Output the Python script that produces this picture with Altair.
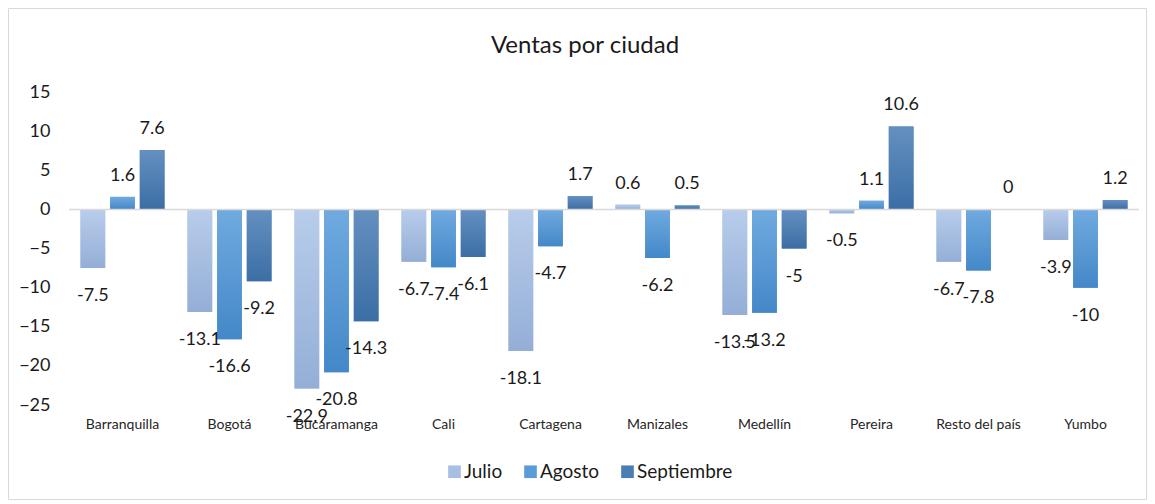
import altair as alt
import pandas as pd

titulo = "Ventas por ciudad"
ciudades = ["Barranquilla", "Bogotá", "Bucaramanga", "Cali", "Cartagena",
            "Manizales", "Medellín", "Pereira", "Resto del país", "Yumbo"]
meses = ["Julio", "Agosto", "Septiembre"]
julio = [-7.5, -13.1, -22.9, -6.7, -18.1, 0.6, -13.5, -0.5, -6.7, -3.9]
agosto = [1.6, -16.6, -20.8, -7.4, -4.7, -6.2, -13.2, 1.1, -7.8, -10]
septiembre = [7.6, -9.2, -14.3, -6.1, 1.7, 0.5, -5, 10.6, 0, 1.2]
y_ticks = [-25, -20, -15, -10, -5, 0, 5, 10, 15]

rows = []
for mes, serie in zip(meses, [julio, agosto, septiembre]):
    for c, v in zip(ciudades, serie):
        rows.append({"ciudad": c, "mes": mes, "valor": v, "etiqueta": f"{v:g}"})
df = pd.DataFrame(rows)

solid = ["#A7BFE3", "#5A9BD8", "#4A7DB3"]


def grad(top, bottom):
    return {"gradient": "linear", "x1": 0, "y1": 0, "x2": 0, "y2": 1,
            "stops": [{"offset": 0, "color": top}, {"offset": 1, "color": bottom}]}


g_jul = grad("#B8CDEB", "#94AED6")
g_ago = grad("#70AAE0", "#4488C8")
g_sep = grad("#6490C0", "#3B6EA5")

FONT = "Lato"
TXT = "#1a1a1a"

y_axis = alt.Axis(title=None, values=y_ticks, grid=False, ticks=False,
                  domain=False, labelFontSize=18, labelColor=TXT,
                  labelPadding=19, labelFont=FONT, labelOverlap=False)
y_scale = alt.Scale(domain=[-25, 15], nice=False, zero=False)

x_enc = alt.X("ciudad:N", sort=ciudades,
              scale=alt.Scale(paddingInner=0.215, paddingOuter=0.1075),
              axis=alt.Axis(title=None, labelAngle=0, ticks=False, domain=False,
                            labelFontSize=14, labelColor="#262626", labelPadding=12,
                            labelFont=FONT, labelOverlap=False))
xoff_enc = alt.XOffset("mes:N", sort=meses,
                       scale=alt.Scale(domain=meses, paddingInner=0.167))
y_enc = alt.Y("valor:Q", scale=y_scale, axis=y_axis)

base = alt.Chart(df)
one = pd.DataFrame({"t": [titulo]})

frame = alt.Chart(one).mark_rect(
    fill="white", fillOpacity=0, stroke="#D9D9D9", strokeWidth=1
).encode(x=alt.value(-60.5), x2=alt.value(1077.5), y=alt.value(-83.5), y2=alt.value(407.5))

title_txt = alt.Chart(one).mark_text(
    fontSize=24, font=FONT, color=TXT, baseline="alphabetic", align="center"
).encode(x=alt.value(516), y=alt.value(-39), text="t:N")

bars_solid = base.mark_bar().encode(
    x=x_enc, xOffset=xoff_enc, y=y_enc, y2=alt.datum(0),
    color=alt.Color("mes:N", sort=meses,
                    scale=alt.Scale(domain=meses, range=solid),
                    legend=alt.Legend(title=None, orient="none", direction="horizontal",
                                      legendX=376, legendY=370, padding=0,
                                      labelFontSize=19, labelColor=TXT, labelFont=FONT,
                                      symbolType="square", symbolSize=160,
                                      symbolStrokeWidth=0, labelOffset=0,
                                      columnPadding=18)),
)

bars_grad = base.mark_bar().encode(
    x=x_enc, xOffset=xoff_enc, y=y_enc, y2=alt.datum(0),
    fill={"condition": [{"test": "datum.mes === 'Julio'", "value": g_jul},
                        {"test": "datum.mes === 'Agosto'", "value": g_ago}],
          "value": g_sep},
)

zero = alt.Chart(one).mark_rule(
    color="#D9D9D9", strokeWidth=1.5).encode(y=alt.YDatum(0, scale=y_scale, axis=y_axis))

lab_pos = base.transform_filter("datum.valor >= 0").mark_text(
    baseline="alphabetic", dy=-16, fontSize=18, font=FONT, color=TXT
).encode(x=x_enc, xOffset=xoff_enc, y=y_enc, text="etiqueta:N")

lab_neg = base.transform_filter("datum.valor < 0").mark_text(
    baseline="alphabetic", dy=33, fontSize=18, font=FONT, color=TXT
).encode(x=x_enc, xOffset=xoff_enc, y=y_enc, text="etiqueta:N")

chart = alt.layer(frame, title_txt, bars_solid, bars_grad, zero, lab_pos, lab_neg).properties(
    width=1070, height=313,
    autosize=alt.AutoSizeParams(type="none"),
    padding={"left": 61, "top": 84, "right": 8, "bottom": 95},
).configure(
    font=FONT,
    view=alt.ViewConfig(stroke="transparent", strokeWidth=0),
    axis=alt.AxisConfig(labelOverlap=False),
)

chart.save("out.html", embed_options={"renderer": "svg", "actions": False})
